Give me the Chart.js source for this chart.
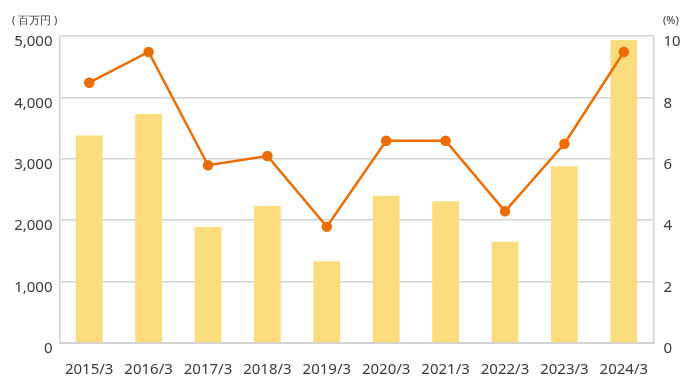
<!DOCTYPE html>
<html>
<head>
<meta charset="utf-8">
<script src="https://cdn.jsdelivr.net/npm/chart.js@4"></script>
<style>
  html, body { margin: 0; padding: 0; background: #fff; }
  #wrap { width: 690px; height: 390px; }
</style>
</head>
<body>
<div id="wrap"><canvas id="chart" width="690" height="390"></canvas></div>
<script>
const years = ['2015/3', '2016/3', '2017/3', '2018/3', '2019/3', '2020/3', '2021/3', '2022/3', '2023/3', '2024/3'];
const amounts = [3380, 3730, 1890, 2230, 1330, 2400, 2310, 1650, 2880, 4935]; // 百万円
const ratios = [8.48, 9.48, 5.79, 6.09, 3.79, 6.59, 6.59, 4.29, 6.49, 9.48]; // %
const leftTicks = [0, 1000, 2000, 3000, 4000, 5000];
const rightTicks = [0, 2, 4, 6, 8, 10];

const FONT = '"Noto Sans", sans-serif';
const TEXT = '#3a3a3a';
const GRID = '#d3d3d3';

// unit labels above the two axes
const unitLabels = {
  id: 'unitLabels',
  afterDraw(chart) {
    const ctx = chart.ctx;
    ctx.save();
    ctx.fillStyle = TEXT;
    ctx.font = '11px ' + FONT;
    ctx.textBaseline = 'middle';
    ctx.textAlign = 'left';
    ctx.fillText('( 百万円 )', 12, 21);
    ctx.fillText('(%)', 663, 21);
    ctx.restore();
  }
};

new Chart(document.getElementById('chart'), {
  data: {
    labels: years,
    datasets: [
      {
        type: 'line',
        label: '%',
        data: ratios,
        yAxisID: 'y1',
        borderColor: '#eb6d00',
        backgroundColor: '#eb6d00',
        borderWidth: 2.5,
        pointRadius: 4,
        pointHoverRadius: 4,
        tension: 0,
        order: 0
      },
      {
        type: 'bar',
        label: '百万円',
        data: amounts,
        yAxisID: 'y',
        backgroundColor: '#fcdc7c',
        categoryPercentage: 1,
        barPercentage: 0.45,
        order: 1
      }
    ]
  },
  options: {
    responsive: false,
    animation: false,
    layout: { padding: { top: 36, left: 0, right: 0, bottom: 0 } },
    plugins: {
      legend: { display: false },
      tooltip: { enabled: false }
    },
    scales: {
      x: {
        grid: { display: false },
        border: { display: true, color: GRID, width: 2 },
        ticks: { color: TEXT, font: { family: FONT, size: 15 }, padding: 10, maxRotation: 0 },
        afterFit(s) { s.height = 47; }
      },
      y: {
        position: 'left',
        min: 0,
        max: 5000,
        afterBuildTicks(s) { s.ticks = leftTicks.map(v => ({ value: v })); },
        grid: { color: GRID, lineWidth: 1.5, drawTicks: false },
        border: { display: true, color: GRID, width: 1.5 },
        ticks: {
          color: TEXT,
          font: { family: FONT, size: 15 },
          padding: 7,
          labelOffset: 6,
          callback: v => v.toLocaleString('en-US')
        },
        afterFit(s) { s.width = 59.5; }
      },
      y1: {
        position: 'right',
        min: 0,
        max: 10,
        afterBuildTicks(s) { s.ticks = rightTicks.map(v => ({ value: v })); },
        grid: { display: false, drawTicks: false },
        border: { display: true, color: GRID, width: 1.5 },
        ticks: {
          color: TEXT,
          font: { family: FONT, size: 15 },
          padding: 10,
          labelOffset: 6
        },
        afterFit(s) { s.width = 36.5; }
      }
    }
  },
  plugins: [unitLabels]
});
</script>
</body>
</html>
